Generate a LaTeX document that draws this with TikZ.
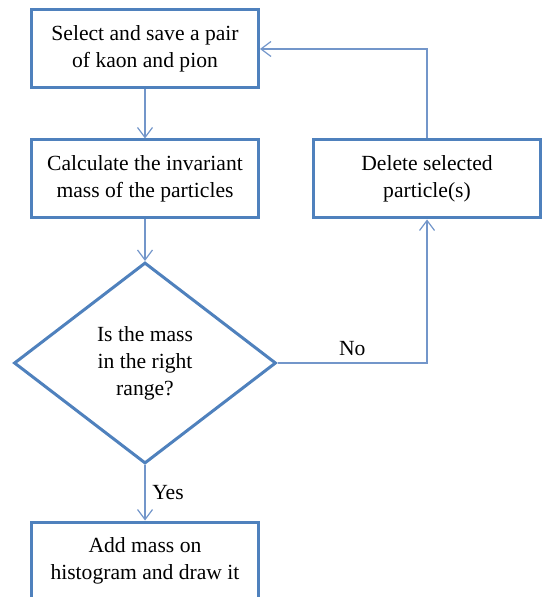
\documentclass[tikz,border=0pt]{standalone}
\usepackage{fontspec}
\setmainfont{Liberation Serif}
\usetikzlibrary{shapes.geometric,arrows.meta}
\definecolor{boxblue}{HTML}{4F81BD}
\definecolor{lineblue}{HTML}{7396CA}
\begin{document}
\begin{tikzpicture}[x=0.5pt, y=-0.5pt,
  every node/.style={font=\fontsize{10.8}{13.5}\selectfont},
  procbox/.style={draw=boxblue, line width=1.5pt, fill=white, align=center,
    minimum width=113.5pt, minimum height=39pt, inner sep=0pt},
  decision/.style={diamond, draw=boxblue, line width=1.5pt, fill=white, align=center,
    minimum width=131pt, minimum height=100.5pt, inner sep=0pt},
  flow/.style={draw=lineblue, line width=0.6pt, -{Straight Barb[length=5pt, width=7.5pt]}}]

\useasboundingbox (0,0) rectangle (543,597);

% boxes
\node[procbox] (select) at (145,49) {Select and save a pair\\of kaon and pion};
\node[procbox] (calc) at (145,179) {Calculate the invariant\\mass of the particles};
\node[procbox] (delete) at (427,179) {Delete selected\\particle(s)};
\node[decision] (check) at (145,363) {Is the mass\\in the right\\range?};
\node[procbox] (add) at (145,561) {Add mass on\\histogram and draw it};

% arrows
\draw[flow] (select) -- (calc);
\draw[flow] (calc) -- (check);
\draw[flow] (check) -- node[right] {Yes} (add);
\draw[flow] (check.east) -| node[pos=0.25, above] {No} (delete.south);
\draw[flow] (delete.north) |- (select.east);

\end{tikzpicture}
\end{document}
